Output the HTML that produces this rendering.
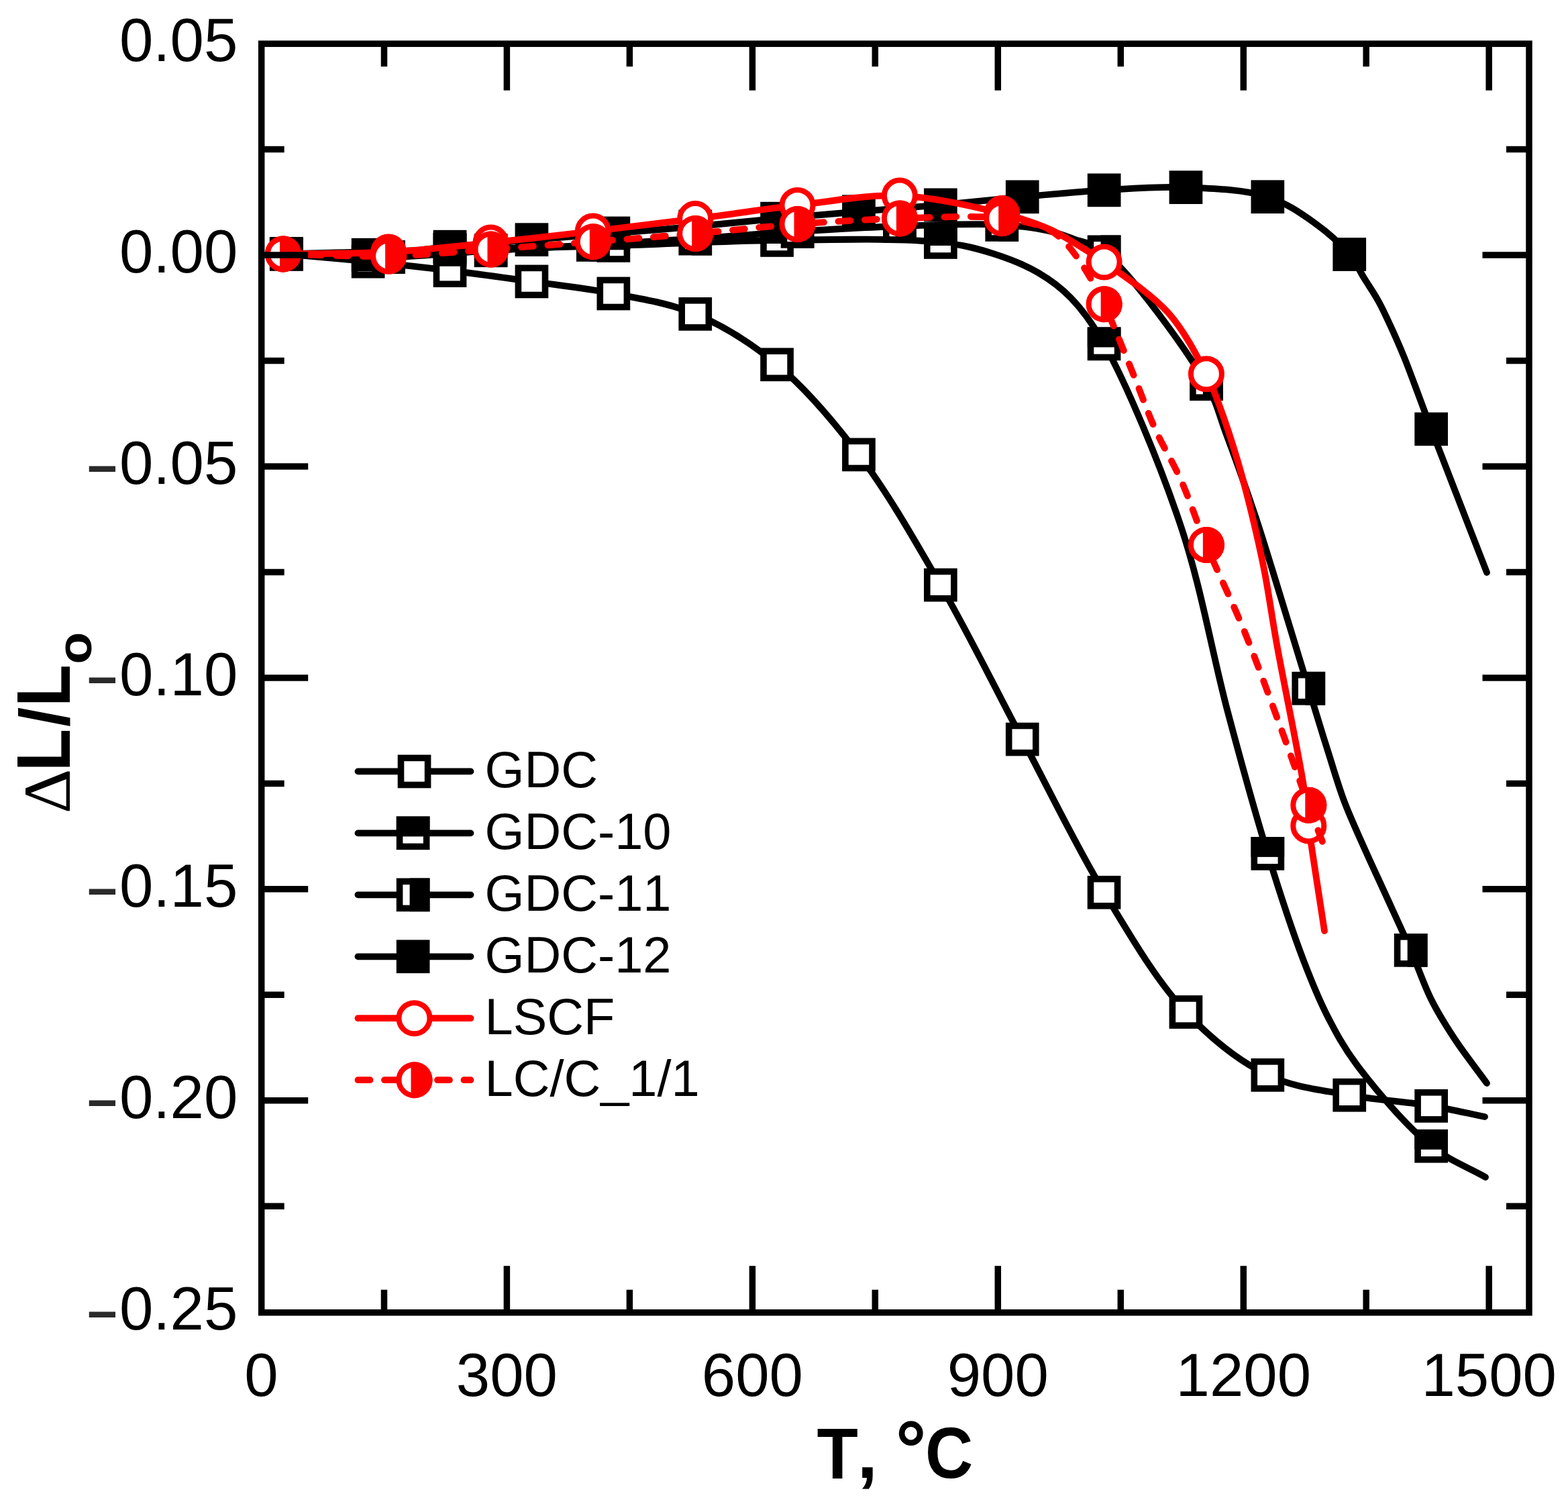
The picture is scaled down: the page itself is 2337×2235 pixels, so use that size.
<!DOCTYPE html>
<html><head><meta charset="utf-8"><title>Dilatometry</title>
<style>
html,body{margin:0;padding:0;background:#fff;}
svg{display:block;}
text{font-kerning:none;}
.tl{font-family:"Liberation Sans",Arial,sans-serif;font-size:90.6px;fill:#000;}
.mn{font-family:"Liberation Sans",Arial,sans-serif;font-size:90.6px;fill:#222;}
.at{font-family:"Liberation Sans",Arial,sans-serif;font-size:103px;font-weight:bold;fill:#000;}
.at2{font-family:"Liberation Sans",Arial,sans-serif;font-size:106px;font-weight:bold;fill:#000;}
.deg{font-family:"Liberation Sans",Arial,sans-serif;font-size:103px;font-weight:bold;fill:#000;}
.dl{font-family:"Liberation Serif","Times New Roman",serif;font-size:98px;fill:#000;}
.sub{font-family:"Liberation Sans",Arial,sans-serif;font-size:74px;font-weight:bold;fill:#000;}
.lg{font-family:"Liberation Sans",Arial,sans-serif;font-size:75.8px;fill:#000;}
</style></head>
<body>
<svg width="2337" height="2235" viewBox="0 0 2337 2235">
<rect width="2337" height="2235" fill="#fff"/>
<path d="M426.8,378.5 C467.4,382.2 508.1,385.6 548.7,389.7 C589.3,393.8 630.0,398.2 670.6,403.2 C711.2,408.2 751.8,413.8 792.4,419.5 C833.1,425.2 873.9,429.5 914.3,437.5 C955.1,445.6 996.8,451.2 1036.2,467.8 C1078.3,485.5 1119.6,511.2 1158.1,543.2 C1201.4,579.2 1241.5,626.6 1280.0,677.4 C1323.3,734.5 1362.4,803.4 1401.8,871.6 C1443.8,944.3 1483.0,1025.1 1523.7,1101.6 C1564.3,1177.8 1603.0,1259.4 1645.6,1329.7 C1684.6,1393.9 1722.8,1460.6 1767.5,1507.9 C1805.2,1547.8 1846.4,1581.1 1889.4,1601.8 C1928.1,1620.5 1970.4,1624.0 2011.2,1631.7 C2051.7,1639.3 2096.9,1641.7 2133.1,1647.8 C2162.6,1652.7 2186.4,1658.6 2213.0,1664.0" fill="none" stroke="#000" stroke-width="9.8" stroke-linecap="round" stroke-linejoin="round"/>
<rect x="406.8" y="358.4" width="40.1" height="40.1" fill="#fff" stroke="#000" stroke-width="9.6"/><rect x="528.6" y="369.6" width="40.1" height="40.1" fill="#fff" stroke="#000" stroke-width="9.6"/><rect x="650.5" y="383.1" width="40.1" height="40.1" fill="#fff" stroke="#000" stroke-width="9.6"/><rect x="772.4" y="399.4" width="40.1" height="40.1" fill="#fff" stroke="#000" stroke-width="9.6"/><rect x="894.3" y="417.4" width="40.1" height="40.1" fill="#fff" stroke="#000" stroke-width="9.6"/><rect x="1016.2" y="447.8" width="40.1" height="40.1" fill="#fff" stroke="#000" stroke-width="9.6"/><rect x="1138.0" y="523.2" width="40.1" height="40.1" fill="#fff" stroke="#000" stroke-width="9.6"/><rect x="1259.9" y="657.4" width="40.1" height="40.1" fill="#fff" stroke="#000" stroke-width="9.6"/><rect x="1381.8" y="851.6" width="40.1" height="40.1" fill="#fff" stroke="#000" stroke-width="9.6"/><rect x="1503.7" y="1081.5" width="40.1" height="40.1" fill="#fff" stroke="#000" stroke-width="9.6"/><rect x="1625.5" y="1309.7" width="40.1" height="40.1" fill="#fff" stroke="#000" stroke-width="9.6"/><rect x="1747.4" y="1487.9" width="40.1" height="40.1" fill="#fff" stroke="#000" stroke-width="9.6"/><rect x="1869.3" y="1581.8" width="40.1" height="40.1" fill="#fff" stroke="#000" stroke-width="9.6"/><rect x="1991.2" y="1611.7" width="40.1" height="40.1" fill="#fff" stroke="#000" stroke-width="9.6"/><rect x="2113.1" y="1627.8" width="40.1" height="40.1" fill="#fff" stroke="#000" stroke-width="9.6"/>

<path d="M426.8,378.5 C508.1,376.3 589.3,374.1 670.6,372.0 C751.8,369.9 833.1,368.3 914.3,366.0 C995.6,363.7 1076.8,358.8 1158.1,358.0 C1239.3,357.2 1343.0,354.3 1401.8,361.0 C1435.9,364.9 1456.7,370.4 1481.6,378.3 C1504.8,385.7 1527.3,394.6 1546.8,406.0 C1565.0,416.6 1580.5,427.8 1595.8,443.6 C1613.8,462.1 1627.6,480.5 1645.6,512.4 C1679.0,571.8 1729.2,691.9 1760.0,784.0 C1790.3,874.5 1806.8,974.2 1829.7,1060.0 C1849.8,1135.4 1869.2,1206.5 1889.4,1271.8 C1906.9,1328.8 1925.8,1386.6 1942.6,1430.6 C1954.9,1462.7 1964.4,1486.5 1977.8,1512.7 C1990.9,1538.3 2002.1,1559.6 2021.8,1586.0 C2049.2,1622.7 2096.7,1678.6 2133.1,1707.7 C2160.5,1729.6 2187.0,1738.6 2214.0,1754.0" fill="none" stroke="#000" stroke-width="9.8" stroke-linecap="round" stroke-linejoin="round"/>
<rect x="406.8" y="358.4" width="40.1" height="40.1" fill="#fff" stroke="#000" stroke-width="9.6"/><rect x="401.9" y="353.6" width="49.7" height="29.9" fill="#000"/><rect x="650.5" y="351.9" width="40.1" height="40.1" fill="#fff" stroke="#000" stroke-width="9.6"/><rect x="645.7" y="347.1" width="49.7" height="29.9" fill="#000"/><rect x="894.3" y="345.9" width="40.1" height="40.1" fill="#fff" stroke="#000" stroke-width="9.6"/><rect x="889.5" y="341.1" width="49.7" height="29.9" fill="#000"/><rect x="1138.0" y="337.9" width="40.1" height="40.1" fill="#fff" stroke="#000" stroke-width="9.6"/><rect x="1133.2" y="333.1" width="49.7" height="29.9" fill="#000"/><rect x="1381.8" y="340.9" width="40.1" height="40.1" fill="#fff" stroke="#000" stroke-width="9.6"/><rect x="1377.0" y="336.1" width="49.7" height="29.9" fill="#000"/><rect x="1625.5" y="492.3" width="40.1" height="40.1" fill="#fff" stroke="#000" stroke-width="9.6"/><rect x="1620.8" y="487.5" width="49.7" height="29.9" fill="#000"/><rect x="1869.3" y="1251.8" width="40.1" height="40.1" fill="#fff" stroke="#000" stroke-width="9.6"/><rect x="1864.5" y="1247.0" width="49.7" height="29.9" fill="#000"/><rect x="2113.1" y="1687.7" width="40.1" height="40.1" fill="#fff" stroke="#000" stroke-width="9.6"/><rect x="2108.3" y="1682.9" width="49.7" height="29.9" fill="#000"/>

<path d="M426.8,378.5 C477.6,380.0 528.4,384.0 579.1,383.1 C630.0,382.2 680.7,376.3 731.5,373.3 C782.3,370.3 833.1,367.9 883.8,365.0 C934.6,362.0 985.4,359.0 1036.2,355.6 C1087.0,352.2 1137.8,347.9 1188.5,344.8 C1239.3,341.7 1290.1,338.6 1340.9,337.0 C1391.7,335.4 1452.3,332.6 1493.2,335.0 C1521.1,336.6 1543.6,339.6 1563.0,344.0 C1577.4,347.2 1587.1,351.2 1600.0,356.0 C1614.5,361.4 1628.1,361.9 1645.6,375.4 C1684.8,405.7 1768.6,520.8 1797.9,572.1 C1814.4,600.9 1816.7,617.7 1827.0,645.0 C1840.0,679.5 1856.8,726.8 1869.0,763.0 C1879.3,793.6 1885.6,814.5 1896.0,848.0 C1911.1,896.4 1935.1,976.3 1950.3,1025.7 C1961.2,1061.1 1969.2,1087.8 1978.4,1116.8 C1986.9,1143.5 1994.1,1169.0 2003.3,1193.5 C2012.1,1216.8 2022.2,1238.4 2032.1,1260.7 C2042.0,1283.2 2051.9,1304.0 2062.8,1327.9 C2075.2,1355.2 2090.5,1387.7 2102.7,1415.8 C2113.7,1441.3 2121.8,1466.6 2133.2,1489.3 C2143.7,1510.3 2154.9,1528.0 2167.9,1547.8 C2182.2,1569.5 2200.0,1591.9 2216.0,1614.0" fill="none" stroke="#000" stroke-width="9.8" stroke-linecap="round" stroke-linejoin="round"/>
<rect x="406.8" y="358.4" width="40.1" height="40.1" fill="#fff" stroke="#000" stroke-width="9.6"/><rect x="421.8" y="353.6" width="29.9" height="49.7" fill="#000"/><rect x="559.1" y="363.1" width="40.1" height="40.1" fill="#fff" stroke="#000" stroke-width="9.6"/><rect x="574.1" y="358.2" width="29.9" height="49.7" fill="#000"/><rect x="711.5" y="353.2" width="40.1" height="40.1" fill="#fff" stroke="#000" stroke-width="9.6"/><rect x="726.5" y="348.4" width="29.9" height="49.7" fill="#000"/><rect x="863.8" y="344.9" width="40.1" height="40.1" fill="#fff" stroke="#000" stroke-width="9.6"/><rect x="878.8" y="340.1" width="29.9" height="49.7" fill="#000"/><rect x="1016.2" y="335.6" width="40.1" height="40.1" fill="#fff" stroke="#000" stroke-width="9.6"/><rect x="1031.2" y="330.8" width="29.9" height="49.7" fill="#000"/><rect x="1168.5" y="324.8" width="40.1" height="40.1" fill="#fff" stroke="#000" stroke-width="9.6"/><rect x="1183.5" y="319.9" width="29.9" height="49.7" fill="#000"/><rect x="1320.8" y="316.9" width="40.1" height="40.1" fill="#fff" stroke="#000" stroke-width="9.6"/><rect x="1335.9" y="312.1" width="29.9" height="49.7" fill="#000"/><rect x="1473.2" y="314.9" width="40.1" height="40.1" fill="#fff" stroke="#000" stroke-width="9.6"/><rect x="1488.2" y="310.1" width="29.9" height="49.7" fill="#000"/><rect x="1625.5" y="355.3" width="40.1" height="40.1" fill="#fff" stroke="#000" stroke-width="9.6"/><rect x="1640.6" y="350.5" width="29.9" height="49.7" fill="#000"/><rect x="1777.9" y="552.1" width="40.1" height="40.1" fill="#fff" stroke="#000" stroke-width="9.6"/><rect x="1792.9" y="547.2" width="29.9" height="49.7" fill="#000"/><rect x="1930.2" y="1005.7" width="40.1" height="40.1" fill="#fff" stroke="#000" stroke-width="9.6"/><rect x="1945.3" y="1000.9" width="29.9" height="49.7" fill="#000"/><rect x="2082.6" y="1395.8" width="40.1" height="40.1" fill="#fff" stroke="#000" stroke-width="9.6"/><rect x="2097.7" y="1391.0" width="29.9" height="49.7" fill="#000"/>

<path d="M426.8,378.5 C467.4,378.9 508.1,381.6 548.7,379.8 C589.4,378.0 629.9,371.5 670.6,367.7 C711.2,363.9 751.8,360.6 792.4,357.2 C833.1,353.8 873.7,350.8 914.3,347.5 C954.9,344.2 995.6,341.1 1036.2,337.5 C1076.8,333.9 1117.4,329.4 1158.1,325.7 C1198.7,322.0 1239.3,318.7 1280.0,315.3 C1320.6,311.9 1361.2,309.0 1401.8,305.4 C1442.5,301.7 1483.1,297.1 1523.7,293.4 C1564.3,289.7 1604.9,285.8 1645.6,283.4 C1686.2,281.0 1726.9,277.6 1767.5,279.2 C1808.2,280.8 1855.3,282.4 1889.4,293.3 C1916.7,302.1 1937.9,316.9 1958.7,331.7 C1978.3,345.7 1998.2,363.5 2011.2,379.1 C2021.3,391.1 2026.0,402.9 2033.3,414.7 C2040.5,426.3 2048.1,437.0 2054.8,449.3 C2062.0,462.3 2068.5,477.0 2074.9,490.9 C2081.2,504.7 2087.2,518.6 2092.9,532.5 C2098.5,546.3 2103.0,558.7 2108.8,574.1 C2116.1,593.4 2122.5,611.4 2133.1,639.4 C2152.4,690.1 2188.4,781.8 2216.0,853.0" fill="none" stroke="#000" stroke-width="9.8" stroke-linecap="round" stroke-linejoin="round"/>
<rect x="401.9" y="353.6" width="49.7" height="49.7" fill="#000"/><rect x="523.8" y="354.9" width="49.7" height="49.7" fill="#000"/><rect x="645.7" y="342.8" width="49.7" height="49.7" fill="#000"/><rect x="767.6" y="332.3" width="49.7" height="49.7" fill="#000"/><rect x="889.5" y="322.6" width="49.7" height="49.7" fill="#000"/><rect x="1011.4" y="312.6" width="49.7" height="49.7" fill="#000"/><rect x="1133.2" y="300.8" width="49.7" height="49.7" fill="#000"/><rect x="1255.1" y="290.4" width="49.7" height="49.7" fill="#000"/><rect x="1377.0" y="280.5" width="49.7" height="49.7" fill="#000"/><rect x="1498.9" y="268.5" width="49.7" height="49.7" fill="#000"/><rect x="1620.8" y="258.5" width="49.7" height="49.7" fill="#000"/><rect x="1742.6" y="254.3" width="49.7" height="49.7" fill="#000"/><rect x="1864.5" y="268.4" width="49.7" height="49.7" fill="#000"/><rect x="1986.4" y="354.2" width="49.7" height="49.7" fill="#000"/><rect x="2108.3" y="614.5" width="49.7" height="49.7" fill="#000"/>

<path d="M422.0,378.4 C474.4,377.4 527.2,378.4 579.1,375.5 C630.4,372.7 680.7,366.7 731.5,361.5 C782.3,356.3 833.1,350.4 883.8,344.5 C934.6,338.6 985.4,332.4 1036.2,326.0 C1087.0,319.6 1137.7,311.6 1188.5,305.9 C1239.3,300.2 1290.2,289.6 1340.9,291.6 C1391.8,293.6 1452.6,307.8 1493.2,318.0 C1521.3,325.0 1542.2,331.8 1563.0,341.0 C1581.2,349.0 1597.3,359.6 1612.0,368.5 C1624.4,376.0 1631.8,380.6 1645.6,390.5 C1669.6,407.8 1715.4,437.1 1741.2,466.0 C1765.4,493.1 1784.7,531.5 1797.9,557.2 C1806.9,574.6 1810.4,585.2 1817.0,603.0 C1825.9,626.8 1836.8,660.4 1845.0,688.0 C1852.6,713.7 1858.7,737.2 1865.0,763.0 C1871.7,790.4 1878.0,817.6 1884.0,848.0 C1890.8,882.7 1895.3,916.8 1903.0,960.0 C1913.7,1019.3 1935.4,1122.2 1943.0,1171.0 C1947.0,1196.8 1946.9,1205.9 1950.3,1230.4 C1955.8,1270.2 1966.1,1334.8 1974.0,1387.0" fill="none" stroke="#f00" stroke-width="9.8" stroke-linecap="round" stroke-linejoin="round"/>
<circle cx="422.0" cy="378.4" r="23" fill="#fff" stroke="#f00" stroke-width="8"/><circle cx="579.1" cy="375.5" r="23" fill="#fff" stroke="#f00" stroke-width="8"/><circle cx="731.5" cy="361.5" r="23" fill="#fff" stroke="#f00" stroke-width="8"/><circle cx="883.8" cy="344.5" r="23" fill="#fff" stroke="#f00" stroke-width="8"/><circle cx="1036.2" cy="326.0" r="23" fill="#fff" stroke="#f00" stroke-width="8"/><circle cx="1188.5" cy="305.9" r="23" fill="#fff" stroke="#f00" stroke-width="8"/><circle cx="1340.9" cy="291.6" r="23" fill="#fff" stroke="#f00" stroke-width="8"/><circle cx="1493.2" cy="318.0" r="23" fill="#fff" stroke="#f00" stroke-width="8"/><circle cx="1645.6" cy="390.5" r="23" fill="#fff" stroke="#f00" stroke-width="8"/><circle cx="1797.9" cy="557.2" r="23" fill="#fff" stroke="#f00" stroke-width="8"/><circle cx="1950.3" cy="1230.4" r="23" fill="#fff" stroke="#f00" stroke-width="8"/>

<path d="M422.0,378.4 C474.4,379.5 527.2,382.8 579.1,381.6 C630.4,380.4 680.7,375.1 731.5,371.5 C782.3,367.9 833.1,364.1 883.8,360.2 C934.6,356.3 985.4,352.4 1036.2,348.0 C1087.0,343.6 1137.7,337.8 1188.5,334.0 C1239.3,330.3 1290.1,327.0 1340.9,325.5 C1391.7,324.0 1452.5,320.4 1493.2,325.2 C1521.2,328.5 1546.2,333.8 1563.0,342.0 C1574.2,347.5 1580.9,355.0 1588.0,362.0 C1594.3,368.2 1598.5,374.1 1604.0,381.6 C1610.8,390.9 1618.3,402.5 1625.0,414.0 C1632.2,426.3 1637.9,436.7 1645.6,453.2 C1658.1,479.8 1676.5,526.7 1690.0,559.8 C1701.7,588.4 1710.2,614.0 1722.0,640.0 C1733.6,665.7 1747.9,688.1 1760.0,715.0 C1773.4,744.9 1783.6,777.5 1797.9,811.9 C1814.5,851.8 1836.4,895.9 1854.4,940.0 C1873.1,985.9 1891.4,1036.8 1908.0,1082.0 C1923.1,1123.0 1938.1,1166.7 1950.3,1199.7 C1959.2,1223.8 1966.1,1241.2 1974.0,1262.0" fill="none" stroke="#f00" stroke-width="9.8" stroke-linecap="round" stroke-linejoin="round" stroke-dasharray="18 21.5"/>
<circle cx="422.0" cy="378.4" r="23" fill="#fff" stroke="#f00" stroke-width="8"/><path d="M417.0,351.9 A27.0,27.0 0 1 1 417.0,404.9 Z" fill="#f00"/><circle cx="579.1" cy="381.6" r="23" fill="#fff" stroke="#f00" stroke-width="8"/><path d="M574.1,355.1 A27.0,27.0 0 1 1 574.1,408.1 Z" fill="#f00"/><circle cx="731.5" cy="371.5" r="23" fill="#fff" stroke="#f00" stroke-width="8"/><path d="M726.5,345.0 A27.0,27.0 0 1 1 726.5,398.0 Z" fill="#f00"/><circle cx="883.8" cy="360.2" r="23" fill="#fff" stroke="#f00" stroke-width="8"/><path d="M878.8,333.7 A27.0,27.0 0 1 1 878.8,386.7 Z" fill="#f00"/><circle cx="1036.2" cy="348.0" r="23" fill="#fff" stroke="#f00" stroke-width="8"/><path d="M1031.2,321.5 A27.0,27.0 0 1 1 1031.2,374.5 Z" fill="#f00"/><circle cx="1188.5" cy="334.0" r="23" fill="#fff" stroke="#f00" stroke-width="8"/><path d="M1183.5,307.5 A27.0,27.0 0 1 1 1183.5,360.5 Z" fill="#f00"/><circle cx="1340.9" cy="325.5" r="23" fill="#fff" stroke="#f00" stroke-width="8"/><path d="M1335.9,299.0 A27.0,27.0 0 1 1 1335.9,352.0 Z" fill="#f00"/><circle cx="1493.2" cy="325.2" r="23" fill="#fff" stroke="#f00" stroke-width="8"/><path d="M1488.2,298.7 A27.0,27.0 0 1 1 1488.2,351.7 Z" fill="#f00"/><circle cx="1645.6" cy="453.2" r="23" fill="#fff" stroke="#f00" stroke-width="8"/><path d="M1640.6,426.7 A27.0,27.0 0 1 1 1640.6,479.7 Z" fill="#f00"/><circle cx="1797.9" cy="811.9" r="23" fill="#fff" stroke="#f00" stroke-width="8"/><path d="M1792.9,785.4 A27.0,27.0 0 1 1 1792.9,838.4 Z" fill="#f00"/><circle cx="1950.3" cy="1199.7" r="23" fill="#fff" stroke="#f00" stroke-width="8"/><path d="M1945.3,1173.2 A27.0,27.0 0 1 1 1945.3,1226.2 Z" fill="#f00"/>

<rect x="389.7" y="65.2" width="1889.3" height="1890.5" fill="none" stroke="#000" stroke-width="9.5"/>
<line x1="389.7" y1="222.5" x2="423.7" y2="222.5" stroke="#000" stroke-width="9.5"/>
<line x1="2279.0" y1="222.5" x2="2245.0" y2="222.5" stroke="#000" stroke-width="9.5"/>
<line x1="389.7" y1="380.0" x2="459.2" y2="380.0" stroke="#000" stroke-width="9.5"/>
<line x1="2279.0" y1="380.0" x2="2209.5" y2="380.0" stroke="#000" stroke-width="9.5"/>
<line x1="389.7" y1="537.5" x2="423.7" y2="537.5" stroke="#000" stroke-width="9.5"/>
<line x1="2279.0" y1="537.5" x2="2245.0" y2="537.5" stroke="#000" stroke-width="9.5"/>
<line x1="389.7" y1="695.0" x2="459.2" y2="695.0" stroke="#000" stroke-width="9.5"/>
<line x1="2279.0" y1="695.0" x2="2209.5" y2="695.0" stroke="#000" stroke-width="9.5"/>
<line x1="389.7" y1="852.4" x2="423.7" y2="852.4" stroke="#000" stroke-width="9.5"/>
<line x1="2279.0" y1="852.4" x2="2245.0" y2="852.4" stroke="#000" stroke-width="9.5"/>
<line x1="389.7" y1="1009.9" x2="459.2" y2="1009.9" stroke="#000" stroke-width="9.5"/>
<line x1="2279.0" y1="1009.9" x2="2209.5" y2="1009.9" stroke="#000" stroke-width="9.5"/>
<line x1="389.7" y1="1167.4" x2="423.7" y2="1167.4" stroke="#000" stroke-width="9.5"/>
<line x1="2279.0" y1="1167.4" x2="2245.0" y2="1167.4" stroke="#000" stroke-width="9.5"/>
<line x1="389.7" y1="1324.8" x2="459.2" y2="1324.8" stroke="#000" stroke-width="9.5"/>
<line x1="2279.0" y1="1324.8" x2="2209.5" y2="1324.8" stroke="#000" stroke-width="9.5"/>
<line x1="389.7" y1="1482.3" x2="423.7" y2="1482.3" stroke="#000" stroke-width="9.5"/>
<line x1="2279.0" y1="1482.3" x2="2245.0" y2="1482.3" stroke="#000" stroke-width="9.5"/>
<line x1="389.7" y1="1639.8" x2="459.2" y2="1639.8" stroke="#000" stroke-width="9.5"/>
<line x1="2279.0" y1="1639.8" x2="2209.5" y2="1639.8" stroke="#000" stroke-width="9.5"/>
<line x1="389.7" y1="1797.3" x2="423.7" y2="1797.3" stroke="#000" stroke-width="9.5"/>
<line x1="2279.0" y1="1797.3" x2="2245.0" y2="1797.3" stroke="#000" stroke-width="9.5"/>
<line x1="572.5" y1="1955.7" x2="572.5" y2="1921.7" stroke="#000" stroke-width="9.5"/>
<line x1="572.5" y1="65.2" x2="572.5" y2="99.2" stroke="#000" stroke-width="9.5"/>
<line x1="755.4" y1="1955.7" x2="755.4" y2="1886.2" stroke="#000" stroke-width="9.5"/>
<line x1="755.4" y1="65.2" x2="755.4" y2="134.7" stroke="#000" stroke-width="9.5"/>
<line x1="938.4" y1="1955.7" x2="938.4" y2="1921.7" stroke="#000" stroke-width="9.5"/>
<line x1="938.4" y1="65.2" x2="938.4" y2="99.2" stroke="#000" stroke-width="9.5"/>
<line x1="1121.4" y1="1955.7" x2="1121.4" y2="1886.2" stroke="#000" stroke-width="9.5"/>
<line x1="1121.4" y1="65.2" x2="1121.4" y2="134.7" stroke="#000" stroke-width="9.5"/>
<line x1="1304.3" y1="1955.7" x2="1304.3" y2="1921.7" stroke="#000" stroke-width="9.5"/>
<line x1="1304.3" y1="65.2" x2="1304.3" y2="99.2" stroke="#000" stroke-width="9.5"/>
<line x1="1487.3" y1="1955.7" x2="1487.3" y2="1886.2" stroke="#000" stroke-width="9.5"/>
<line x1="1487.3" y1="65.2" x2="1487.3" y2="134.7" stroke="#000" stroke-width="9.5"/>
<line x1="1670.3" y1="1955.7" x2="1670.3" y2="1921.7" stroke="#000" stroke-width="9.5"/>
<line x1="1670.3" y1="65.2" x2="1670.3" y2="99.2" stroke="#000" stroke-width="9.5"/>
<line x1="1853.3" y1="1955.7" x2="1853.3" y2="1886.2" stroke="#000" stroke-width="9.5"/>
<line x1="1853.3" y1="65.2" x2="1853.3" y2="134.7" stroke="#000" stroke-width="9.5"/>
<line x1="2036.2" y1="1955.7" x2="2036.2" y2="1921.7" stroke="#000" stroke-width="9.5"/>
<line x1="2036.2" y1="65.2" x2="2036.2" y2="99.2" stroke="#000" stroke-width="9.5"/>
<line x1="2219.2" y1="1955.7" x2="2219.2" y2="1886.2" stroke="#000" stroke-width="9.5"/>
<line x1="2219.2" y1="65.2" x2="2219.2" y2="134.7" stroke="#000" stroke-width="9.5"/>
<line x1="533.5" y1="1149.4" x2="701.5" y2="1149.4" stroke="#000" stroke-width="9.8" stroke-linecap="round"/>
<rect x="597.5" y="1129.4" width="40.1" height="40.1" fill="#fff" stroke="#000" stroke-width="9.6"/>
<text x="722.5" y="1173.4" class="lg">GDC</text>
<line x1="533.5" y1="1241.4" x2="701.5" y2="1241.4" stroke="#000" stroke-width="9.8" stroke-linecap="round"/>
<rect x="595.6" y="1221.3" width="40.1" height="40.1" fill="#fff" stroke="#000" stroke-width="9.6"/><rect x="590.8" y="1216.5" width="49.7" height="29.9" fill="#000"/>
<text x="722.5" y="1265.4" class="lg">GDC-10</text>
<line x1="533.5" y1="1333.3" x2="701.5" y2="1333.3" stroke="#000" stroke-width="9.8" stroke-linecap="round"/>
<rect x="595.6" y="1313.3" width="40.1" height="40.1" fill="#fff" stroke="#000" stroke-width="9.6"/><rect x="610.6" y="1308.5" width="29.9" height="49.7" fill="#000"/>
<text x="722.5" y="1357.3" class="lg">GDC-11</text>
<line x1="533.5" y1="1425.3" x2="701.5" y2="1425.3" stroke="#000" stroke-width="9.8" stroke-linecap="round"/>
<rect x="590.8" y="1400.4" width="49.7" height="49.7" fill="#000"/>
<text x="722.5" y="1449.3" class="lg">GDC-12</text>
<line x1="533.5" y1="1517.2" x2="701.5" y2="1517.2" stroke="#f00" stroke-width="9.8" stroke-linecap="round"/>
<circle cx="617.5" cy="1517.2" r="23" fill="#fff" stroke="#f00" stroke-width="8"/>
<text x="722.5" y="1541.2" class="lg">LSCF</text>
<line x1="533.5" y1="1609.2" x2="701.5" y2="1609.2" stroke="#f00" stroke-width="9.8" stroke-linecap="round" stroke-dasharray="18 21.5"/>
<circle cx="617.5" cy="1609.2" r="23" fill="#fff" stroke="#f00" stroke-width="8"/><path d="M612.5,1582.7 A27.0,27.0 0 1 1 612.5,1635.7 Z" fill="#f00"/>
<text x="722.5" y="1633.2" class="lg">LC/C_1/1</text>
<text x="354.3" y="90.9" text-anchor="end" class="tl">0.05</text>
<text x="354.3" y="405.9" text-anchor="end" class="tl">0.00</text>
<text x="354.3" y="720.9" text-anchor="end" class="tl">0.05</text>
<text transform="translate(128.81,739.36) scale(0.8928,1.3315)" font-family='"Liberation Sans",Arial,sans-serif' font-weight="normal" font-size="90.6" fill="#2a2a2a">−</text>
<text x="354.3" y="1035.8" text-anchor="end" class="tl">0.10</text>
<text transform="translate(128.81,1054.31) scale(0.8928,1.3315)" font-family='"Liberation Sans",Arial,sans-serif' font-weight="normal" font-size="90.6" fill="#2a2a2a">−</text>
<text x="354.3" y="1350.8" text-anchor="end" class="tl">0.15</text>
<text transform="translate(128.81,1369.26) scale(0.8928,1.3315)" font-family='"Liberation Sans",Arial,sans-serif' font-weight="normal" font-size="90.6" fill="#2a2a2a">−</text>
<text x="354.3" y="1665.7" text-anchor="end" class="tl">0.20</text>
<text transform="translate(128.81,1684.21) scale(0.8928,1.3315)" font-family='"Liberation Sans",Arial,sans-serif' font-weight="normal" font-size="90.6" fill="#2a2a2a">−</text>
<text x="354.3" y="1980.7" text-anchor="end" class="tl">0.25</text>
<text transform="translate(128.81,1999.16) scale(0.8928,1.3315)" font-family='"Liberation Sans",Arial,sans-serif' font-weight="normal" font-size="90.6" fill="#2a2a2a">−</text>
<text x="389.5" y="2080" text-anchor="middle" class="tl">0</text>
<text x="755.4" y="2080" text-anchor="middle" class="tl">300</text>
<text x="1121.4" y="2080" text-anchor="middle" class="tl">600</text>
<text x="1487.3" y="2080" text-anchor="middle" class="tl">900</text>
<text x="1853.3" y="2080" text-anchor="middle" class="tl">1200</text>
<text x="2219.2" y="2080" text-anchor="middle" class="tl">1500</text>
<text transform="translate(1217.57,2202.80) scale(0.9667,1.0314)" font-family='"Liberation Sans",Arial,sans-serif' font-weight="bold" font-size="104" fill="#000">T</text>
<text transform="translate(1277.55,2201.69) scale(1.0552,1.0131)" font-family='"Liberation Sans",Arial,sans-serif' font-weight="bold" font-size="104" fill="#000">,</text>
<text transform="translate(1334.76,2200.24) scale(1.1029,1.1503)" font-family='"Liberation Sans",Arial,sans-serif' font-weight="bold" font-size="104" fill="#000">°</text>
<text transform="translate(1378.95,2201.95) scale(0.9486,1.0321)" font-family='"Liberation Sans",Arial,sans-serif' font-weight="bold" font-size="104" fill="#000">C</text>
<text transform="translate(104.00,1212.25) rotate(-90) scale(1.0593,1.0047)" font-family='"Liberation Serif","Times New Roman",serif' font-weight="normal" font-size="98" fill="#000">Δ</text>
<text transform="translate(104.10,1149.59) rotate(-90) scale(0.9853,1.0655)" font-family='"Liberation Sans",Arial,sans-serif' font-weight="bold" font-size="106" fill="#000">L</text>
<text transform="translate(102.01,1083.03) rotate(-90) scale(0.9934,0.9844)" font-family='"Liberation Sans",Arial,sans-serif' font-weight="bold" font-size="106" fill="#000">/</text>
<text transform="translate(104.10,1053.13) rotate(-90) scale(0.9780,1.0655)" font-family='"Liberation Sans",Arial,sans-serif' font-weight="bold" font-size="106" fill="#000">L</text>
<text transform="translate(135.80,989.57) rotate(-90) scale(1.0462,0.9613)" font-family='"Liberation Sans",Arial,sans-serif' font-weight="bold" font-size="75" fill="#000">o</text>
</svg>
</body></html>
